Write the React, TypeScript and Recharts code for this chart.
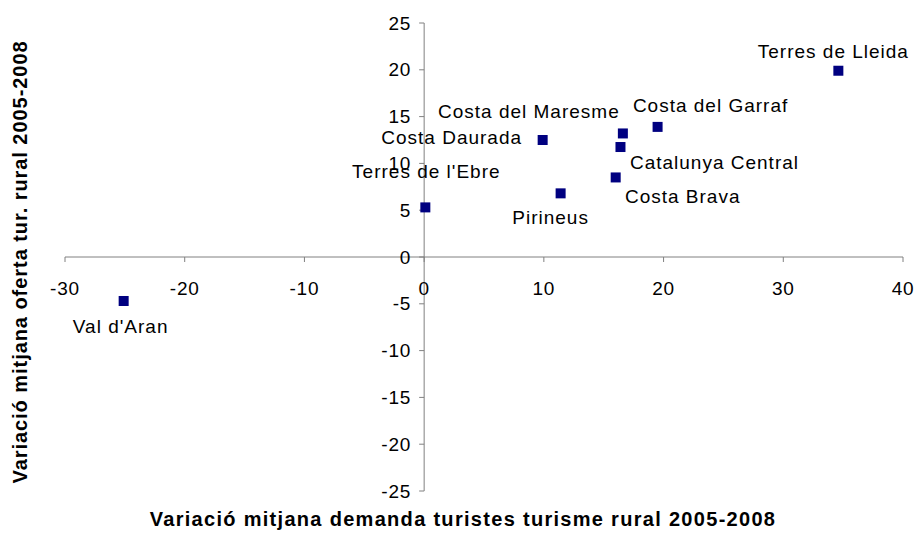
import React from 'react';
import { ScatterChart, Scatter, XAxis, YAxis, ReferenceLine } from 'recharts';

const regionNames = [
  'Terres de Lleida',
  'Costa del Garraf',
  'Costa del Maresme',
  'Costa Daurada',
  'Catalunya Central',
  'Costa Brava',
  'Pirineus',
  "Terres de l'Ebre",
  "Val d'Aran",
];
const demandaValues = [34.6, 19.5, 16.6, 9.9, 16.4, 16.0, 11.4, 0.1, -25.1];
const ofertaValues = [19.9, 13.9, 13.2, 12.5, 11.75, 8.5, 6.8, 5.3, -4.7];

const xTickValues = [-30, -20, -10, 0, 10, 20, 30, 40];
const yTickValues = [-25, -20, -15, -10, -5, 0, 5, 10, 15, 20, 25];

const xTitle = 'Variació mitjana demanda turistes turisme rural 2005-2008';
const yTitle = 'Variació mitjana oferta tur. rural 2005-2008';

// label offsets (pixels) relative to each marker, as placed in the original
const labelOffsets: [number, number][] = [
  [-5, -19],
  [53, -22],
  [-94, -22],
  [-91, -3],
  [94, 15],
  [67, 19],
  [-10, 24],
  [1, -36],
  [-3, 25],
];

const points = regionNames.map((name, i) => ({
  name,
  x: demandaValues[i],
  y: ofertaValues[i],
  i,
}));
const xTicks = xTickValues.map((v) => ({ x: v, y: 0, label: String(v) }));
const yTicks = yTickValues.map((v) => ({ x: 0, y: v, label: String(v) }));

const FONT = 'Liberation Sans, Arial, sans-serif';
const AXIS = '#808080';

const XTickShape = (p: any) => (
  <g>
    <line x1={p.cx} y1={p.cy} x2={p.cx} y2={p.cy + 5} stroke={AXIS} strokeWidth={1} />
    <text
      x={p.cx}
      y={p.cy + 31}
      dy="0.35em"
      textAnchor="middle"
      fontFamily={FONT}
      fontSize={19}
      letterSpacing={0.8}
      fill="#000"
    >
      {p.payload.label}
    </text>
  </g>
);

const YTickShape = (p: any) => (
  <g>
    <line x1={p.cx - 5} y1={p.cy} x2={p.cx} y2={p.cy} stroke={AXIS} strokeWidth={1} />
    <text
      x={p.cx - 13}
      y={p.cy}
      dy="0.35em"
      textAnchor="end"
      fontFamily={FONT}
      fontSize={19}
      letterSpacing={0.8}
      fill="#000"
    >
      {p.payload.label}
    </text>
  </g>
);

const PointShape = (p: any) => {
  const [dx, dy] = labelOffsets[p.payload.i];
  return (
    <g>
      <rect x={p.cx - 5} y={p.cy - 5} width={10} height={10} fill="#000080" />
      <text
        x={p.cx + dx}
        y={p.cy + dy}
        dy="0.35em"
        textAnchor="middle"
        fontFamily={FONT}
        fontSize={19}
        letterSpacing={1}
        fill="#000"
      >
        {p.payload.name}
      </text>
    </g>
  );
};

export default function App() {
  return (
    <div style={{ position: 'absolute', left: 0, top: 0, width: 922, height: 547, background: '#fff' }}>
      <ScatterChart
        width={922}
        height={547}
        margin={{ top: 23, right: 19, bottom: 56, left: 65 }}
      >
        <XAxis type="number" dataKey="x" domain={[-30, 40]} hide />
        <YAxis type="number" dataKey="y" domain={[-25, 25]} hide />
        <ReferenceLine y={0} stroke={AXIS} strokeWidth={1} />
        <ReferenceLine x={0} stroke={AXIS} strokeWidth={1} />
        <Scatter data={xTicks} shape={XTickShape} isAnimationActive={false} />
        <Scatter data={yTicks} shape={YTickShape} isAnimationActive={false} />
        <Scatter data={points} shape={PointShape} isAnimationActive={false} />
        <text
          x={463}
          y={519}
          dy="0.35em"
          textAnchor="middle"
          fontFamily={FONT}
          fontSize={20}
          fontWeight="bold"
          letterSpacing={1.3}
          fill="#000"
        >
          {xTitle}
        </text>
        <text
          x={20}
          y={262}
          dy="0.35em"
          textAnchor="middle"
          fontFamily={FONT}
          fontSize={20}
          fontWeight="bold"
          letterSpacing={0.95}
          fill="#000"
          transform="rotate(-90 20 262)"
        >
          {yTitle}
        </text>
      </ScatterChart>
    </div>
  );
}
